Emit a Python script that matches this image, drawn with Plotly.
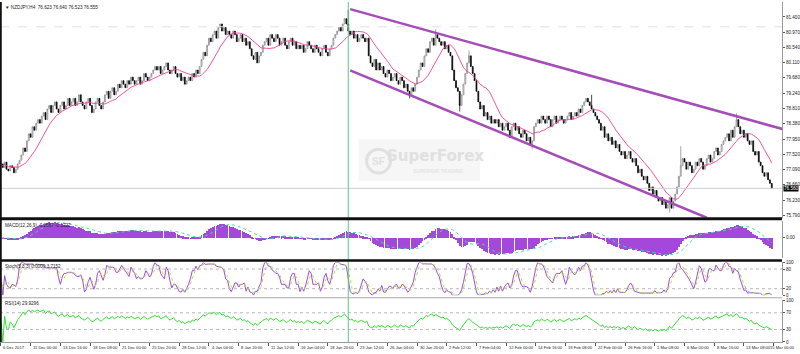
import numpy as np
import pandas as pd
import plotly.graph_objects as go
from plotly.subplots import make_subplots

# ---------------- data ----------------
symbol_title = "\u25BC NZDJPY,H4  76.623 76.640 76.523 76.555"

close = [
    77.25, 77.15, 77.30, 77.10, 77.05, 77.20, 77.15, 77.00, 77.10, 77.25, 77.35,
    77.50, 77.70, 77.60, 77.90, 78.10, 78.00, 78.30, 78.20, 78.40, 78.50, 78.40,
    78.60, 78.70, 78.50, 78.80, 78.90, 78.70, 78.90, 79.00, 78.80, 78.70, 78.90, 79.00, 78.80, 78.90, 79.10, 78.90,
    79.00, 79.10, 78.90, 79.00, 79.20, 79.00, 78.90, 78.80, 79.00, 79.10, 78.90, 78.70, 78.80, 79.00, 79.10, 78.90, 78.80, 79.00, 79.20, 79.30, 79.10,
    79.30, 79.40, 79.20, 79.30, 79.50, 79.40, 79.60, 79.50, 79.40, 79.60, 79.50, 79.70, 79.60, 79.50, 79.60, 79.70, 79.50, 79.60, 79.80, 79.70, 79.60, 79.70,
    79.80, 79.90, 80.00, 79.90, 80.00, 79.80, 79.90, 80.00, 80.10, 79.90, 79.80, 79.90, 80.00, 79.80, 79.70, 79.80,
    79.60, 79.70, 79.50, 79.60, 79.70, 79.60, 79.80, 79.70, 79.90, 79.80,
    80.00, 80.20, 80.40, 80.30, 80.60, 80.80, 80.70, 80.90, 81.00, 80.80, 81.10, 81.20, 81.00, 81.10, 80.90, 81.00,
    80.90, 80.80, 81.00, 80.90, 80.70, 80.80, 80.90, 80.70, 80.80, 80.60, 80.70,
    80.50, 80.30, 80.20, 80.40, 80.10, 80.30, 80.40, 80.60,
    80.70, 80.80, 80.60, 80.90, 80.80, 80.70, 80.90, 80.80, 80.60, 80.70, 80.80, 80.60, 80.50, 80.70, 80.80, 80.60, 80.70, 80.50, 80.60,
    80.50, 80.60, 80.40, 80.50, 80.70, 80.60, 80.50, 80.40, 80.60, 80.50, 80.40, 80.30, 80.50, 80.60, 80.40, 80.30,
    80.50, 80.60, 80.80, 80.90, 81.00, 81.10, 81.00, 81.20, 81.35, 81.20,
    81.00, 80.90, 81.00, 80.80, 80.90, 80.70, 80.80, 80.90, 80.80, 80.70,
    80.80, 80.30, 80.10, 80.00, 80.20, 79.90,
    80.10, 79.90, 80.00, 79.80, 79.70, 79.90, 79.80, 79.60, 79.70, 79.80, 79.60, 79.50, 79.70, 79.60, 79.40, 79.50,
    79.30, 79.20, 79.40, 79.30,
    79.50, 79.70, 79.90, 80.10, 80.00, 80.30, 80.50, 80.40, 80.70, 80.80, 80.60, 80.90,
    80.80, 80.70, 80.60, 80.70, 80.50, 80.60, 80.40, 80.30,
    79.90, 79.60, 79.40, 79.30, 78.90, 79.20, 79.50, 79.80,
    80.10, 80.30, 80.00, 79.80, 79.60,
    79.30, 79.00, 78.80, 78.90, 78.60, 78.70, 78.50, 78.60, 78.40, 78.50, 78.40,
    78.50, 78.30, 78.40, 78.20, 78.30, 78.40, 78.20, 78.00, 78.30, 78.40, 78.20, 78.30, 78.10, 78.00, 78.20, 78.10, 77.90, 78.00, 77.80, 77.90, 78.30,
    78.40, 78.50, 78.40, 78.60, 78.50, 78.40, 78.60, 78.50, 78.30, 78.50, 78.60, 78.40, 78.50, 78.60, 78.50, 78.40, 78.50, 78.60, 78.70, 78.50, 78.60, 78.70, 78.60, 78.80, 78.70, 78.90, 79.00,
    79.10, 79.00, 78.90, 78.80, 78.70, 78.60,
    78.50, 78.40, 78.20, 78.30, 78.00, 78.10, 77.90, 78.00, 77.80, 77.90, 77.70, 77.80, 77.60, 77.50, 77.60, 77.40, 77.50, 77.60, 77.40, 77.30, 77.40,
    77.20, 77.00, 77.10, 76.90, 76.80, 76.90, 76.70, 76.50, 76.60, 76.40, 76.50, 76.30, 76.20, 76.30, 76.10, 76.20, 76.00, 76.10, 76.30, 76.00, 76.20,
    76.40, 76.60, 76.90, 77.20, 77.40, 77.30, 77.10, 77.30, 77.20, 77.00,
    77.10, 77.30, 77.20, 77.40, 77.30, 77.10, 77.20, 77.40, 77.50, 77.30, 77.40, 77.60, 77.70, 77.50, 77.60, 77.80,
    77.90, 78.00, 78.10, 77.90, 78.20, 78.00, 78.30, 78.50,
    78.30, 78.10, 78.20, 78.00, 78.10, 77.90, 77.80, 77.90, 77.60, 77.50, 77.60, 77.30, 77.20, 77.00, 76.90, 77.00, 76.80, 76.70, 76.56,
]

# notable wick extremes (bar index -> price)
wick_high = {187: 81.60, 234: 81.05, 252: 80.45, 318: 79.20, 366: 77.75, 396: 78.68}
wick_low = {220: 79.10, 247: 78.73, 286: 77.67, 360: 75.88}

x_labels = ["6 Dec 2017", "11 Dec 00:00", "13 Dec 16:00", "18 Dec 08:00", "21 Dec 00:00",
            "25 Dec 20:00", "28 Dec 12:00", "4 Jan 04:00", "8 Jan 20:00", "11 Jan 12:00",
            "16 Jan 04:00", "18 Jan 20:00", "23 Jan 12:00", "26 Jan 04:00", "30 Jan 20:00",
            "2 Feb 12:00", "7 Feb 04:00", "12 Feb 00:00", "14 Feb 16:00", "19 Feb 08:00",
            "22 Feb 00:00", "26 Feb 16:00", "1 Mar 08:00", "6 Mar 00:00", "8 Mar 16:00",
            "13 Mar 08:00", "15 Mar 00:00"]
label_step = 16

price_ticks = [81.400, 80.970, 80.540, 80.110, 79.680, 79.240, 78.810, 78.380,
               77.950, 77.520, 77.090, 76.660, 76.230, 75.790]

channel_upper = ((188, 81.62), (421, 78.23))
channel_lower = ((188, 79.89), (380, 75.73))
vline_bar = 187
top_dash_level = 81.12

# ---------------- derived series ----------------
N = len(close)
xs = np.arange(N)
c = pd.Series(close, dtype=float)
o = c.shift(1).fillna(c.iloc[0])
hi = np.maximum(o, c).copy()
lo = np.minimum(o, c).copy()
for k, v in wick_high.items():
    if k < N:
        hi.iloc[k] = max(hi.iloc[k], v)
for k, v in wick_low.items():
    if k < N:
        lo.iloc[k] = min(lo.iloc[k], v)

ma = c.rolling(14, min_periods=1).mean()
ema12 = c.ewm(span=12, adjust=False).mean()
ema26 = c.ewm(span=26, adjust=False).mean()
macd = ema12 - ema26
sig = macd.rolling(9, min_periods=1).mean()

hh = pd.Series(hi).rolling(5, min_periods=1).max()
ll = pd.Series(lo).rolling(5, min_periods=1).min()
num = (c - ll).rolling(3, min_periods=1).sum()
den = (hh - ll).rolling(3, min_periods=1).sum().replace(0, np.nan)
stk = (100 * num / den).fillna(50)
std = stk.rolling(3, min_periods=1).mean()

diff = c.diff().fillna(0)
up = diff.clip(lower=0).ewm(alpha=1 / 14, adjust=False).mean()
dn = (-diff.clip(upper=0)).ewm(alpha=1 / 14, adjust=False).mean()
rsi = 100 - 100 / (1 + up / dn.replace(0, np.nan))
rsi = rsi.fillna(50)

# ---------------- figure ----------------
H_PLOT = 342.0
def py(pix):
    return 1 - pix / H_PLOT

fig = make_subplots(rows=4, cols=1, shared_xaxes=True, vertical_spacing=0.0)

fig.add_trace(go.Candlestick(
    x=xs, open=o, high=hi, low=lo, close=c,
    increasing=dict(line=dict(color='#808080', width=0.7), fillcolor='#ffffff'),
    decreasing=dict(line=dict(color='#000000', width=0.7), fillcolor='#000000'),
    whiskerwidth=0, showlegend=False, hoverinfo='skip'), row=1, col=1)
fig.add_trace(go.Scatter(x=xs, y=ma, mode='lines', line=dict(color='#f0409a', width=0.9),
                         hoverinfo='skip'), row=1, col=1)

fig.add_trace(go.Bar(x=xs, y=macd, marker=dict(color='#a448dc', line=dict(width=0)),
                     width=0.42, hoverinfo='skip'), row=2, col=1)
fig.add_trace(go.Scatter(x=xs, y=sig, mode='lines', line=dict(color='#3ee0a0', width=1, dash='dot'),
                         hoverinfo='skip'), row=2, col=1)

fig.add_trace(go.Scatter(x=xs, y=stk, mode='lines', line=dict(color='#a448dc', width=1),
                         hoverinfo='skip'), row=3, col=1)
fig.add_trace(go.Scatter(x=xs, y=std, mode='lines', line=dict(color='#a8e040', width=1, dash='dot'),
                         hoverinfo='skip'), row=3, col=1)

fig.add_trace(go.Scatter(x=xs, y=rsi, mode='lines', line=dict(color='#30e030', width=1),
                         hoverinfo='skip'), row=4, col=1)

xr = [-0.5, 420.5]
domains = {1: [py(217), 1.0], 2: [py(258), py(220)], 3: [py(295), py(262)], 4: [0.0, py(300)]}
TF = dict(size=4.6, color='#222', family='Liberation Sans')
XF = dict(size=4.1, color='#222', family='Liberation Sans')
for r in range(1, 5):
    fig.update_xaxes(row=r, col=1, range=xr, showgrid=False, zeroline=False,
                     showticklabels=False, ticks='', showline=False)
    fig.update_yaxes(row=r, col=1, domain=domains[r], side='right', showgrid=False, zeroline=False,
                     showline=True, linecolor='#9a9a9a', linewidth=1, ticks='outside', ticklen=2,
                     tickcolor='#555', tickfont=TF)
fig.update_xaxes(row=1, col=1, rangeslider=dict(visible=False))
fig.update_xaxes(row=4, col=1, ticks='outside', ticklen=3, tickcolor='#555',
                 tickvals=[i * label_step for i in range(len(x_labels))],
                 showline=True, linecolor='#9a9a9a')

fig.update_yaxes(row=1, col=1, range=[75.73, 81.82], tickvals=price_ticks,
                 ticktext=[f"{v:.3f}" for v in price_ticks])
fig.update_yaxes(row=2, col=1, range=[-0.51, 0.42], tickvals=[0.4207, 0.0], ticktext=['0.4207', '0.00'])
fig.update_yaxes(row=3, col=1, range=[0, 100], tickvals=[0, 20, 80, 100], ticktext=['0', '20', '80', '100'])
fig.update_yaxes(row=4, col=1, range=[0, 100], tickvals=[0, 30, 70, 100], ticktext=['0', '30', '70', '100'])

shapes = []
for lvl in (20, 80):
    shapes.append(dict(type='line', xref='x3 domain', yref='y3', x0=0, x1=1, y0=lvl, y1=lvl,
                       line=dict(color='#b8b8b8', width=1, dash='dot')))
for lvl in (30, 70):
    shapes.append(dict(type='line', xref='x4 domain', yref='y4', x0=0, x1=1, y0=lvl, y1=lvl,
                       line=dict(color='#b8b8b8', width=1, dash='dot')))
shapes.append(dict(type='line', xref='x domain', yref='y', x0=0, x1=1, y0=close[-1], y1=close[-1],
                   line=dict(color='#cfcfcf', width=1)))
shapes.append(dict(type='line', xref='x domain', yref='y', x0=0, x1=1, y0=top_dash_level, y1=top_dash_level,
                   line=dict(color='#e2e2e2', width=1, dash='dash')))
for (a, b) in (channel_upper, channel_lower):
    shapes.append(dict(type='line', xref='x', yref='y', x0=a[0], y0=a[1], x1=b[0], y1=b[1],
                       line=dict(color='#a64cb8', width=2.5)))
shapes.append(dict(type='line', xref='x', yref='paper', x0=vline_bar, x1=vline_bar, y0=0, y1=1,
                   line=dict(color='#5ccc80', width=1)))
shapes.append(dict(type='line', xref='paper', yref='paper', x0=0, x1=1, y0=py(218), y1=py(218),
                   line=dict(color='#111', width=3)))
shapes.append(dict(type='line', xref='paper', yref='paper', x0=0, x1=1, y0=py(260), y1=py(260),
                   line=dict(color='#111', width=2.5)))
shapes.append(dict(type='line', xref='paper', yref='paper', x0=0, x1=1, y0=py(297.5), y1=py(297.5),
                   line=dict(color='#aaaaaa', width=1)))
shapes.append(dict(type='line', xref='paper', yref='paper', x0=0.001, x1=0.001, y0=0, y1=1,
                   line=dict(color='#111', width=2)))
shapes.append(dict(type='rect', xref='paper', yref='paper', x0=360 / 785, x1=482 / 785,
                   y0=py(180), y1=py(138), fillcolor='#f6f6f6', line=dict(width=0), layer='below'))
shapes.append(dict(type='circle', xref='paper', yref='paper', x0=368 / 785, x1=392 / 785,
                   y0=py(172), y1=py(148), line=dict(color='#e0e0e0', width=3), layer='below'))

annotations = []
for i, t in enumerate(x_labels):
    if i == len(x_labels) - 1:
        annotations.append(dict(x=800 / 785, y=py(343), xref='paper', yref='paper', text=t,
                                showarrow=False, xanchor='right', yanchor='top', font=XF))
    else:
        annotations.append(dict(x=i * label_step + 0.3, y=py(343), xref='x4', yref='paper', text=t,
                                showarrow=False, xanchor='left', yanchor='top', font=XF))
annotations.append(dict(x=0.004, y=py(1), xref='paper', yref='paper', text=symbol_title,
                        showarrow=False, xanchor='left', yanchor='top', font=TF))
annotations.append(dict(x=0.004, y=py(220), xref='paper', yref='paper',
                        text=f"MACD(12,26,9) {macd.iloc[-1]:.4f} {sig.iloc[-1]:.4f}",
                        showarrow=False, xanchor='left', yanchor='top', font=TF))
annotations.append(dict(x=0.004, y=py(262), xref='paper', yref='paper',
                        text=f"Stoch(5,3,3) {stk.iloc[-1]:.4f} {std.iloc[-1]:.4f}",
                        showarrow=False, xanchor='left', yanchor='top', font=TF))
annotations.append(dict(x=0.004, y=py(299), xref='paper', yref='paper',
                        text=f"RSI(14) {rsi.iloc[-1]:.4f}",
                        showarrow=False, xanchor='left', yanchor='top', font=TF))
annotations.append(dict(x=1.0, y=close[-1], xref='paper', yref='y', text=f"{close[-1]:.3f}",
                        showarrow=False, xanchor='left', yanchor='middle', bgcolor='#000',
                        font=dict(size=4.6, color='#fff', family='Liberation Sans'), borderpad=0, xshift=1))
annotations.append(dict(x=380 / 785, y=py(160), xref='paper', yref='paper', text="<b>SF</b>",
                        showarrow=False, font=dict(size=10, color='#e0e0e0')))
annotations.append(dict(x=437 / 785, y=py(155), xref='paper', yref='paper', text="<b>SuperForex</b>",
                        showarrow=False, font=dict(size=15, color='#e0e0e0', family='DejaVu Sans')))
annotations.append(dict(x=440 / 785, y=py(170), xref='paper', yref='paper', text="<b>SUPERIOR TRADING</b>",
                        showarrow=False, font=dict(size=5, color='#e4e4e4')))

fig.update_layout(width=800, height=354, margin=dict(l=0, r=15, t=0, b=12),
                  paper_bgcolor='white', plot_bgcolor='white', showlegend=False,
                  font=dict(family='Liberation Sans', size=5, color='#222'),
                  bargap=0, shapes=shapes, annotations=annotations)

fig.write_html("out.html")
